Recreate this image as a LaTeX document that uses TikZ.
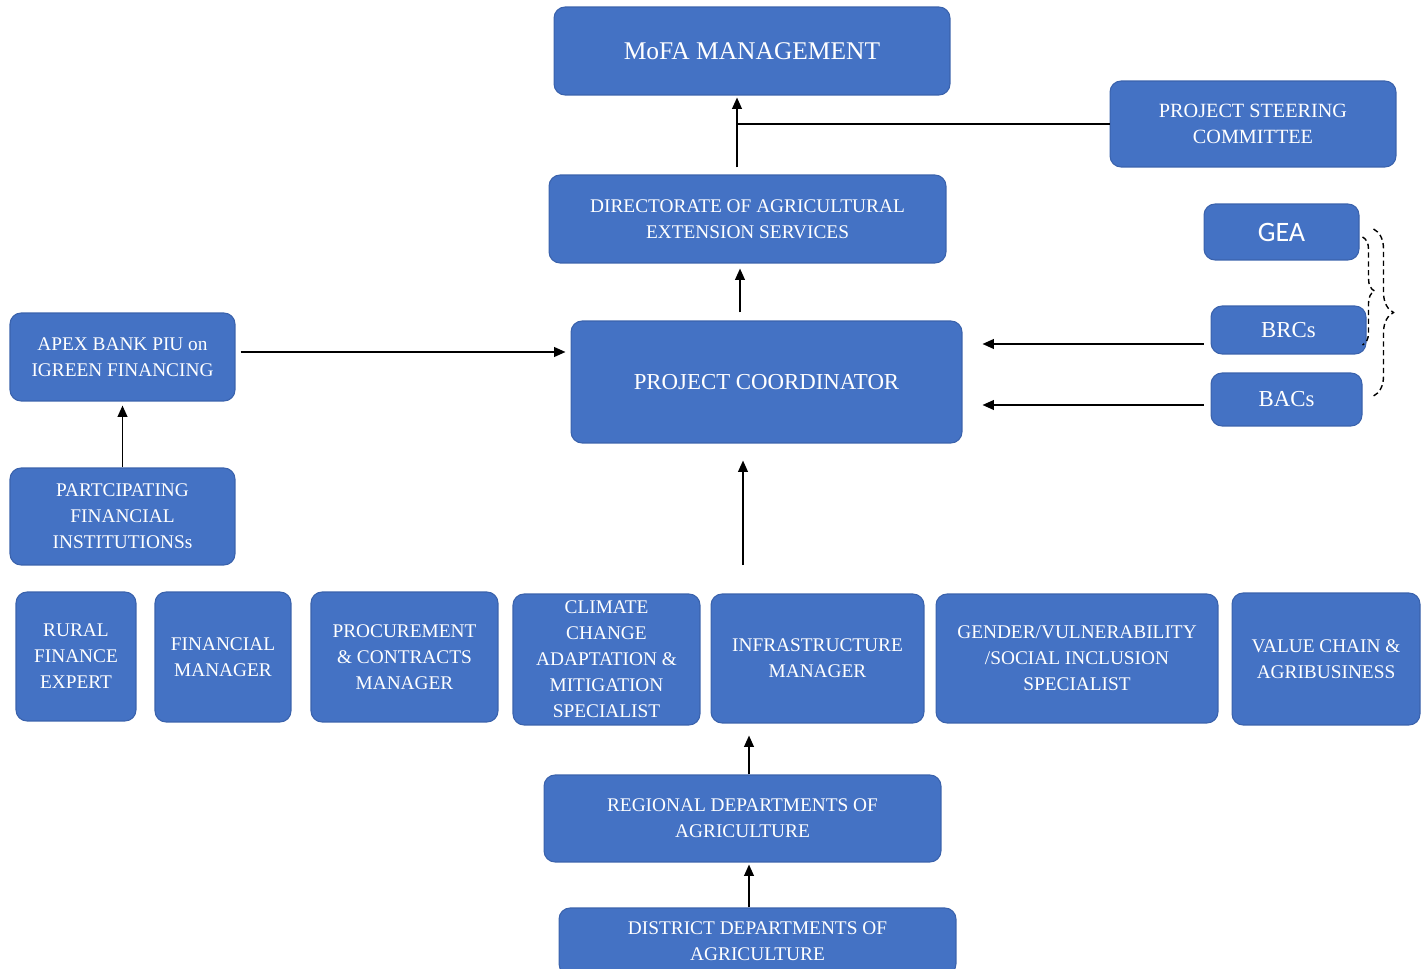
\documentclass[tikz,border=0pt]{standalone}
\usepackage{fontspec}
\setmainfont{Liberation Serif}
\newfontfamily\calibrifont{Carlito}
\usetikzlibrary{arrows.meta}
\usetikzlibrary{decorations.pathreplacing}
\definecolor{boxblue}{HTML}{4472C4}
\definecolor{boxedge}{HTML}{3A62AC}

\begin{document}
\begin{tikzpicture}[x=0.02cm, y=-0.02cm,
		box/.style={fill=boxblue, draw=boxedge, line width=0.6pt, rounded corners=2.2mm, text=white, align=center, inner sep=1pt, font=\fontsize{11}{14.8}\selectfont},
		arr/.style={-{Triangle[length=6.5pt,width=5.5pt]}, line width=1.1pt},
		link/.style={line width=1.1pt},
		bracket/.style={dashed, dash pattern=on 3pt off 2pt, line width=0.8pt, decorate, decoration={brace, amplitude=#1}}]

		\useasboundingbox (0,0) rectangle (1423,969);

		% top of the chart
		\node[box, minimum width=7.92cm, minimum height=1.76cm, font=\fontsize{14.5}{18}\selectfont] (mofa) at (752,51) {MoFA MANAGEMENT};
		\node[box, minimum width=5.72cm, minimum height=1.72cm, font=\fontsize{11.5}{14.8}\selectfont] (psc) at (1253,124) {PROJECT STEERING\\COMMITTEE};
		\node[box, minimum width=7.94cm, minimum height=1.76cm] (daes) at (747.5,219) {DIRECTORATE OF AGRICULTURAL\\EXTENSION SERVICES};

		\node[box, minimum width=3.10cm, minimum height=1.12cm, font=\calibrifont\fontsize{16}{18}\selectfont] (gea) at (1281.5,232) {GEA};
		\node[box, minimum width=3.10cm, minimum height=0.96cm, font=\fontsize{13}{15}\selectfont] (brcs) at (1288.5,330) {BRCs};
		\node[box, minimum width=3.02cm, minimum height=1.06cm, font=\fontsize{13}{15}\selectfont] (bacs) at (1286.5,399.5) {BACs};

		\node[box, minimum width=4.50cm, minimum height=1.76cm] (apex) at (122.5,357) {APEX BANK PIU on\\IGREEN FINANCING};
		\node[box, minimum width=7.82cm, minimum height=2.44cm, font=\fontsize{13}{16}\selectfont] (pc) at (766.5,382) {PROJECT COORDINATOR};
		\node[box, minimum width=4.50cm, minimum height=1.94cm] (pfi) at (122.5,516.5) {PARTCIPATING\\FINANCIAL\\INSTITUTIONSs};

		% staff row
		\node[box, minimum width=2.40cm, minimum height=2.58cm] (rfe) at (76,656.5) {RURAL\\FINANCE\\EXPERT};
		\node[box, minimum width=2.72cm, minimum height=2.60cm] (fm) at (223,657) {FINANCIAL\\MANAGER};
		\node[box, minimum width=3.74cm, minimum height=2.60cm] (proc) at (404.5,657) {PROCUREMENT\\\& CONTRACTS\\MANAGER};
		\node[box, minimum width=3.74cm, minimum height=2.62cm] (ccam) at (606.5,659.5) {CLIMATE\\CHANGE\\ADAPTATION \&\\MITIGATION\\SPECIALIST};
		\node[box, minimum width=4.26cm, minimum height=2.58cm] (infra) at (817.5,658.5) {INFRASTRUCTURE\\MANAGER};
		\node[box, minimum width=5.64cm, minimum height=2.58cm] (gvsi) at (1077,658.5) {GENDER/VULNERABILITY\\/SOCIAL INCLUSION\\SPECIALIST};
		\node[box, minimum width=3.76cm, minimum height=2.64cm] (vca) at (1326,659) {VALUE CHAIN \&\\AGRIBUSINESS};

		% field level
		\node[box, minimum width=7.94cm, minimum height=1.74cm] (rda) at (742.5,818.5) {REGIONAL DEPARTMENTS OF\\AGRICULTURE};
		\node[box, minimum width=7.94cm, minimum height=1.34cm] (dda) at (757.5,941.5) {DISTRICT DEPARTMENTS OF\\AGRICULTURE};

		\coordinate (top) at (737,124);
		\coordinate (pcup) at (740,0);
		\coordinate (pcin) at (743,565);
		\coordinate (spine) at (749,0);

		\draw[arr, shorten <=0.14cm, shorten >=0.04cm] (top |- daes.north) -- (top |- mofa.south);
		\draw[link] (psc.west) -- (top);
		\draw[arr, shorten <=0.16cm, shorten >=0.1cm] (pcup |- pc.north) -- (pcup |- daes.south);

		\draw[arr, shorten <=0.1cm, shorten >=0.1cm] ([yshift=0.1cm]apex.east) -- ([yshift=0.1cm]apex.east -| pc.west);
		\draw[arr, shorten >=0.08cm] (pfi.north) -- (apex.south);

		\draw[arr, shorten <=0.14cm, shorten >=0.4cm] ([yshift=-0.28cm]brcs.west) -- ([yshift=-0.28cm]brcs.west -| pc.east);
		\draw[arr, shorten <=0.14cm, shorten >=0.4cm] ([yshift=-0.11cm]bacs.west) -- ([yshift=-0.11cm]bacs.west -| pc.east);

		\draw[bracket=0.24cm] ([shift={(3,5)}]gea.east) -- ([shift={(-4,15)}]brcs.east);
		\draw[bracket=0.4cm] ([shift={(14,-3)}]gea.east) -- ([shift={(11,-3.5)}]bacs.east);

		\draw[arr, shorten >=0.34cm] (pcin) -- (pcin |- pc.south);
		\draw[arr, shorten >=0.24cm] (spine |- rda.north) -- (spine |- infra.south);
		\draw[arr, shorten >=0.04cm] (spine |- dda.north) -- (spine |- rda.south);
	\end{tikzpicture}
\end{document}
